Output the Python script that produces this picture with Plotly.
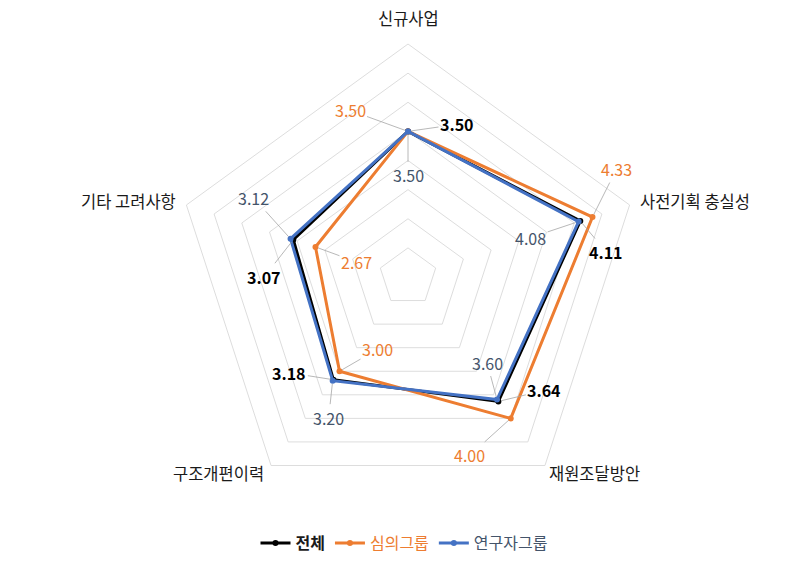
import math
import plotly.graph_objects as go

categories = ["신규사업", "사전기획 충실성", "재원조달방안", "구조개편이력", "기타 고려사항"]
series_names = ["전체", "심의그룹", "연구자그룹"]
total = [3.50, 4.11, 3.64, 3.18, 3.07]
review = [3.50, 4.33, 4.00, 3.00, 2.67]
research = [3.50, 4.08, 3.60, 3.20, 3.12]
values = [total, review, research]

colors = ["#000000", "#ED7D31", "#4472C4"]
label_colors = ["#000000", "#ED7D31", "#44546A"]
label_bold = [True, False, False]

W, H = 808, 561
cx, cy, R = 408, 277, 233
rmin, rmax = 1, 5

# label offsets (pixels, text centre relative to point) per series per category
offsets = [
    [(49, -7), (26, 31), (46, -11), (-44, -7), (-29, 37)],
    [(-58, -21), (24, -48), (-41, 37), (38, -22), (41, 15)],
    [(0, 44), (-48, 16), (-10, -37), (-4, 37), (-37, -41)],
]

def to_px(v, i):
    th = math.radians(i * 72)
    r = (v - rmin) / (rmax - rmin) * R
    return cx + r * math.sin(th), cy - r * math.cos(th)

fig = go.Figure()
names_html = ["<b>전체</b>", "<span style='color:#ED7D31'>심의그룹</span>",
              "<span style='color:#44546A'>연구자그룹</span>"]
for k in range(3):
    fig.add_trace(go.Scatterpolar(
        r=values[k] + [values[k][0]], theta=categories + [categories[0]],
        mode="lines+markers", name=names_html[k],
        line=dict(color=colors[k], width=3),
        marker=dict(color=colors[k], size=6),
    ))

annotations = []
for k in range(3):
    for i, v in enumerate(values[k]):
        px, py = to_px(v, i)
        ox, oy = offsets[k][i]
        txt = f"{v:.2f}"
        if label_bold[k]:
            txt = f"<b>{txt}</b>"
        annotations.append(dict(
            x=px / W, y=1 - py / H, xref="paper", yref="paper",
            text=txt, showarrow=True, arrowhead=0, arrowwidth=0.8,
            arrowcolor="#A6A6A6", ax=ox, ay=oy, standoff=3,
            font=dict(size=16, color=label_colors[k]),
        ))

# category labels
cat_pos = [
    dict(dx=0, dy=-12, xa="center", ya="bottom"),
    dict(dx=8, dy=-4, xa="left", ya="middle"),
    dict(dx=2, dy=7, xa="left", ya="middle"),
    dict(dx=-5, dy=7, xa="right", ya="middle"),
    dict(dx=-8, dy=-4, xa="right", ya="middle"),
]
for i, c in enumerate(categories):
    px, py = to_px(rmax, i)
    p = cat_pos[i]
    annotations.append(dict(
        x=(px + p["dx"]) / W, y=1 - (py + p["dy"]) / H, xref="paper", yref="paper",
        text=c, showarrow=False, xanchor=p["xa"], yanchor=p["ya"],
        font=dict(size=16.5, color="#1a1a1a"),
    ))

fig.update_layout(
    width=W, height=H,
    margin=dict(l=0, r=0, t=0, b=0),
    paper_bgcolor="white",
    font=dict(family="Noto Sans CJK KR", size=15, color="#1a1a1a"),
    polar=dict(
        domain=dict(x=[(cx - R) / W, (cx + R) / W], y=[1 - (cy + R) / H, 1 - (cy - R) / H]),
        bgcolor="white",
        gridshape="linear",
        radialaxis=dict(range=[rmin, rmax], tick0=1, dtick=0.5, showticklabels=False,
                        ticks="", showline=False, gridcolor="#DDDDDD", gridwidth=1),
        angularaxis=dict(rotation=90, direction="clockwise", showgrid=False,
                         showticklabels=False, ticks="", showline=True,
                         linecolor="#DDDDDD", linewidth=1),
    ),
    showlegend=True,
    legend=dict(orientation="h", x=0.5, xanchor="center", y=1 - 543 / H, yanchor="middle",
                font=dict(size=16), itemwidth=30),
    annotations=annotations,
)

fig.write_html("out.html")
